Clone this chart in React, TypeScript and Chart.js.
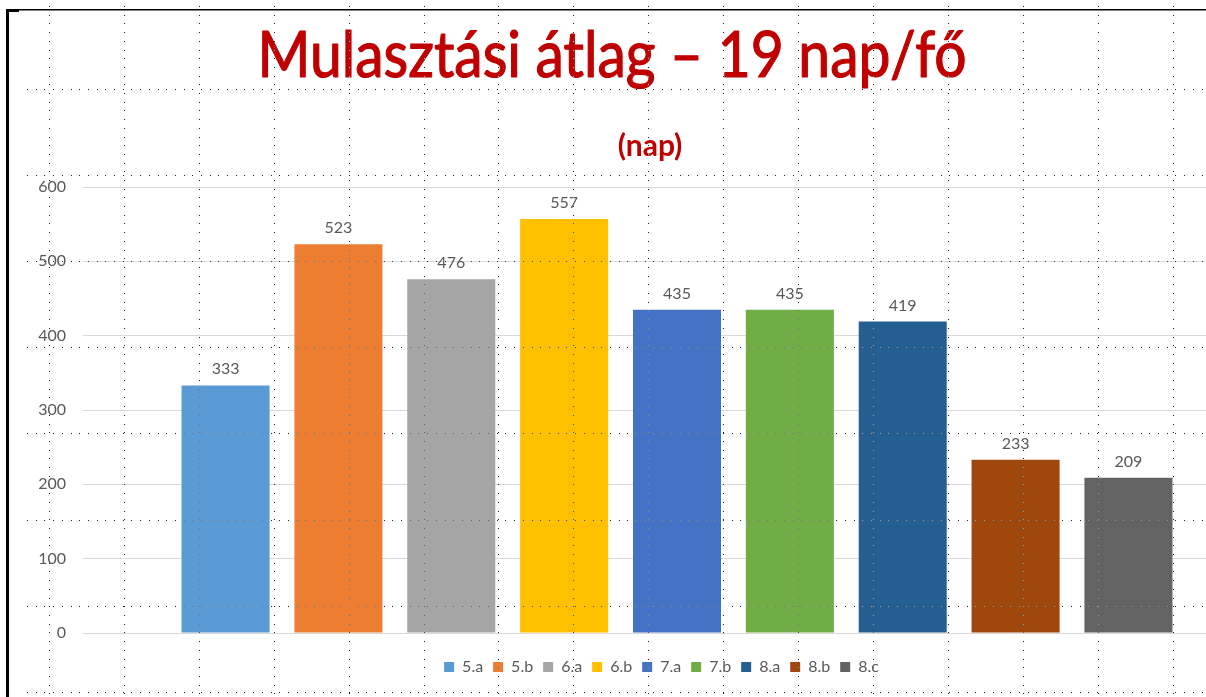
import React, { useEffect, useRef } from "react";
import { Chart, registerables } from "chart.js";

Chart.register(...registerables);

const categories = [""];
const classes = ["5.a", "5.b", "6.a", "6.b", "7.a", "7.b", "8.a", "8.b", "8.c"];
const values = [333, 523, 476, 557, 435, 435, 419, 233, 209];
const colors = ["#5B9BD5", "#ED7D31", "#A5A5A5", "#FFC000", "#4472C4", "#70AD47", "#255E91", "#9E480E", "#636363"];
const yMin = 0;
const yMax = 600;
const yStep = 100;
const titleText = "Mulasztási átlag – 19 nap/fő";
const subtitleText = "(nap)";

const FONT = "Lato, 'Open Sans', sans-serif";
const GRAY = "#595959";
const RED = "#C00000";

const W = 1290;
const H = 697;

const backgroundPlugin = {
  id: "bg",
  beforeDraw(chart: any) {
    const ctx = chart.ctx;
    ctx.save();
    ctx.fillStyle = "#ffffff";
    ctx.fillRect(0, 0, chart.width, chart.height);
    ctx.restore();
  },
};

const legendShiftPlugin = {
  id: "legendShift",
  afterLayout(chart: any) {
    const lg = chart.legend;
    if (lg) {
      lg.left += 8;
      lg.right += 8;
    }
  },
};

const titlePlugin = {
  id: "titles",
  afterDraw(chart: any) {
    const ctx = chart.ctx;
    ctx.save();
    ctx.fillStyle = RED;
    ctx.strokeStyle = RED;
    ctx.lineWidth = 1.2;
    ctx.lineJoin = "round";
    ctx.textBaseline = "alphabetic";
    ctx.textAlign = "center";
    ctx.font = `400 64px ${FONT}`;
    const tw = ctx.measureText(titleText).width;
    const target = 709;
    const sx = target / tw;
    ctx.translate(612, 77);
    ctx.scale(sx, 1);
    ctx.fillText(titleText, 0, 0);
    ctx.strokeText(titleText, 0, 0);
    ctx.restore();

    ctx.save();
    ctx.fillStyle = RED;
    ctx.textAlign = "center";
    ctx.textBaseline = "alphabetic";
    ctx.font = `700 30px ${FONT}`;
    ctx.fillText(subtitleText, 650, 156);
    ctx.restore();
  },
};

const valueLabelPlugin = {
  id: "valueLabels",
  afterDatasetsDraw(chart: any) {
    const ctx = chart.ctx;
    ctx.save();
    ctx.fillStyle = GRAY;
    ctx.font = `400 16px ${FONT}`;
    ctx.textAlign = "center";
    ctx.textBaseline = "alphabetic";
    chart.data.datasets.forEach((ds: any, i: number) => {
      const meta = chart.getDatasetMeta(i);
      meta.data.forEach((bar: any, j: number) => {
        const v = ds.data[j];
        if (v == null) return;
        ctx.fillText(String(v), bar.x, bar.y - 11);
      });
    });
    ctx.restore();
  },
};

const overlayPlugin = {
  id: "overlay",
  afterDraw(chart: any) {
    const ctx = chart.ctx;
    ctx.save();
    ctx.globalCompositeOperation = "difference";
    ctx.globalAlpha = 0.9;
    ctx.fillStyle = "#ffffff";
    const dot = 8.7;
    for (let k = 0; k < 16; k++) {
      const x = Math.round(49 + 74.9 * k);
      for (let y = 6; y < H; y += dot) {
        ctx.fillRect(x, Math.round(y), 1, 1);
      }
    }
    for (let k = 0; k < 8; k++) {
      const y = Math.round(89 + 86.1 * k);
      for (let x = 27; x < 1206; x += dot) {
        ctx.fillRect(Math.round(x), y, 1, 1);
      }
    }
    ctx.restore();

    ctx.save();
    ctx.fillStyle = "#000000";
    ctx.fillRect(6, 9, 3, H - 9);
    ctx.fillRect(6, 9, 1200, 1.5);
    ctx.fillRect(6, 9, 13, 3);
    ctx.restore();
  },
};

export default function App() {
  const ref = useRef<HTMLCanvasElement | null>(null);

  useEffect(() => {
    if (!ref.current) return;
    const chart = new Chart(ref.current, {
      type: "bar",
      data: {
        labels: categories,
        datasets: classes.map((c, i) => ({
          label: c,
          data: [values[i]],
          backgroundColor: colors[i],
          borderWidth: 0,
          categoryPercentage: 0.855,
          barPercentage: 0.78,
        })),
      },
      options: {
        responsive: false,
        animation: false,
        layout: { padding: { left: 36, right: 19, top: 187, bottom: 12 } },
        plugins: {
          title: { display: false },
          tooltip: { enabled: false },
          legend: {
            position: "bottom",
            labels: {
              boxWidth: 10,
              boxHeight: 10,
              padding: 10,
              color: GRAY,
              font: { family: FONT, size: 16 },
            },
          },
        },
        scales: {
          x: {
            display: true,
            grid: { display: false },
            border: { display: false },
            ticks: { display: false },
            afterFit: (s: any) => {
              s.height = 16;
            },
          },
          y: {
            min: yMin,
            max: yMax,
            ticks: {
              stepSize: yStep,
              padding: 17,
              color: GRAY,
              font: { family: FONT, size: 16 },
            },
            grid: { color: "#d9d9d9", drawTicks: false, lineWidth: 1 },
            border: { display: false },
            afterFit: (s: any) => {
              s.width = 47;
            },
          },
        },
      },
      plugins: [backgroundPlugin, legendShiftPlugin, valueLabelPlugin, titlePlugin, overlayPlugin],
    });
    return () => chart.destroy();
  }, []);

  return (
    <div
      style={{
        position: "absolute",
        left: 0,
        top: 0,
        width: 1206,
        height: H,
        overflow: "hidden",
        background: "#ffffff",
      }}
    >
      <canvas ref={ref} width={W} height={H} style={{ display: "block", width: W, height: H }} />
    </div>
  );
}
